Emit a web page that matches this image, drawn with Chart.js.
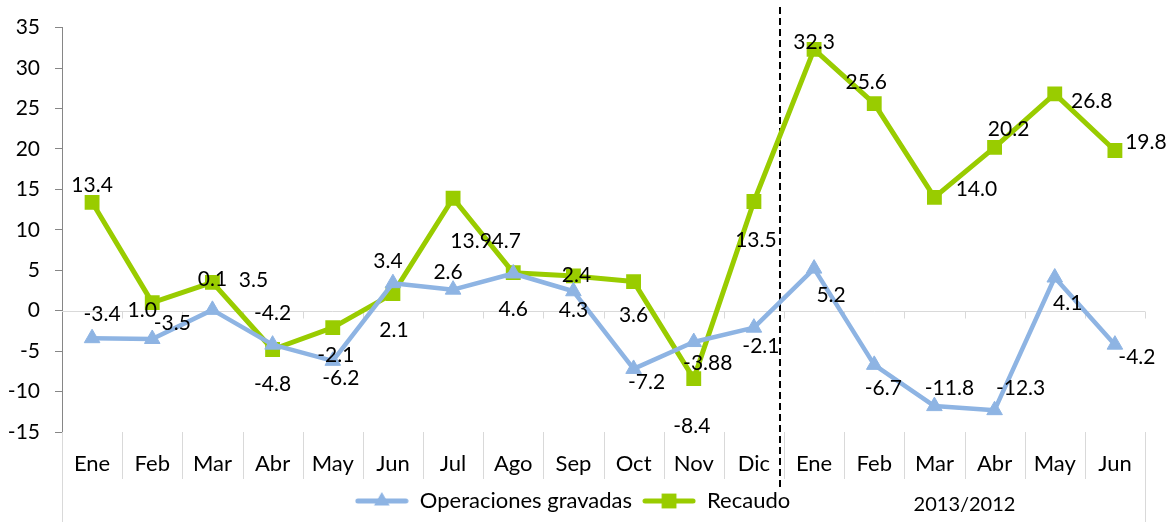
<!DOCTYPE html>
<html>
<head>
<meta charset="utf-8">
<script src="https://cdn.jsdelivr.net/npm/chart.js@4.4.1/dist/chart.umd.min.js"></script>
<style>
html, body { margin: 0; padding: 0; background: #fff; }
#wrap { width: 1173px; height: 522px; position: relative; }
</style>
</head>
<body>
<div id="wrap"><canvas id="myChart"></canvas></div>
<script>
// datos
var meses = ["Ene", "Feb", "Mar", "Abr", "May", "Jun", "Jul", "Ago", "Sep", "Oct", "Nov", "Dic",
             "Ene", "Feb", "Mar", "Abr", "May", "Jun"];
var operaciones = [-3.4, -3.5, 0.1, -4.2, -6.2, 3.4, 2.6, 4.6, 2.4, -7.2, -3.88, -2.1,
                   5.2, -6.7, -11.8, -12.3, 4.1, -4.2];
var recaudo = [13.4, 1.0, 3.5, -4.8, -2.1, 2.1, 13.9, 4.7, 4.3, 3.6, -8.4, 13.5,
               32.3, 25.6, 14.0, 20.2, 26.8, 19.8];
var yTicks = [-15, -10, -5, 0, 5, 10, 15, 20, 25, 30, 35];
var grupoLabel = "2013/2012";
var grupoDesde = 12, grupoHasta = 17;   // meses de 2013
var corte = 11.43;                      // linea punteada entre Dic y Ene

// desplazamiento de las etiquetas (px) respecto al punto, como en la hoja
var nudgeOper = [[10,-24],[20,-16],[0,-31],[0,-31],[8,17],[-5,-22],[-5,-17],[0,36],[3,-16],
                 [13,13],[14,21],[7,19],[17,27],[9,23],[15,-18],[26,-22],[13,26],[22,13]];
var nudgeRec = [[0,-17],[-10,8],[41,-2],[0,35],[3,28],[1,37],[18,43],[-7,-31],[0,34],
                [0,34],[-2,48],[2,39],[0,-7],[-8,-21],[42,-8],[14,-18],[37,7],[31,-8]];

var azul = '#8EB4E3';
var verde = '#99CC00';

Chart.defaults.font.family = 'Lato';
Chart.defaults.font.size = 21;
Chart.defaults.color = '#000';

function fmt(v) {
    return (Math.round(v * 10) / 10 === v) ? v.toFixed(1) : String(v);
}

function legendIcon(color, style, r) {
    var c = document.createElement('canvas');
    c.width = 54; c.height = 22;
    var g = c.getContext('2d');
    g.strokeStyle = color;
    g.fillStyle = color;
    g.lineWidth = 5;
    g.lineCap = 'round';
    g.beginPath();
    g.moveTo(3, 11); g.lineTo(51, 11);
    g.stroke();
    Chart.helpers.drawPoint(g, {pointStyle: style, radius: r, borderWidth: 0, rotation: 0}, 27, 11);
    return c;
}
var icons = [legendIcon(azul, 'triangle', 9), legendIcon(verde, 'rect', 10.5)];

var excelAxis = {
    id: 'excelAxis',
    beforeDatasetsDraw: function(chart) {
        var ctx = chart.ctx, xs = chart.scales.x, ys = chart.scales.y, a = chart.chartArea;
        var y0 = Math.round(ys.getPixelForValue(0)) + 0.5;
        ctx.save();
        ctx.strokeStyle = '#d9d9d9';
        ctx.lineWidth = 1;
        ctx.beginPath();
        ctx.moveTo(a.left, y0); ctx.lineTo(a.right, y0);
        for (var i = 1; i <= meses.length; i++) {
            var px = Math.round(xs.getPixelForValue(i - 0.5)) + 0.5;
            ctx.moveTo(px, y0); ctx.lineTo(px, y0 + 7);
        }
        for (var j = 0; j <= meses.length; j++) {
            var sx = Math.round(xs.getPixelForValue(j - 0.5)) + 0.5;
            var fin = (j == 0 || j == meses.length) ? chart.height : a.bottom + 47;
            ctx.moveTo(sx, a.bottom); ctx.lineTo(sx, fin);
        }
        ctx.stroke();

        // linea punteada
        var cx = Math.round(xs.getPixelForValue(corte));
        ctx.strokeStyle = '#000';
        ctx.lineWidth = 2;
        ctx.setLineDash([7, 4]);
        ctx.beginPath();
        ctx.moveTo(cx, 7); ctx.lineTo(cx, 490);
        ctx.stroke();
        ctx.setLineDash([]);

        // etiqueta de grupo
        ctx.fillStyle = '#000';
        ctx.font = '20px Lato';
        ctx.textAlign = 'center';
        ctx.textBaseline = 'middle';
        var gx = (xs.getPixelForValue(grupoDesde) + xs.getPixelForValue(grupoHasta)) / 2;
        ctx.fillText(grupoLabel, gx, 505);
        ctx.restore();
    },
    afterDatasetsDraw: function(chart) {
        var ctx = chart.ctx;
        var nudges = [nudgeOper, nudgeRec];
        ctx.save();
        ctx.fillStyle = '#000';
        ctx.font = '21px Lato';
        ctx.textAlign = 'center';
        ctx.textBaseline = 'middle';
        chart.data.datasets.forEach(function(ds, d) {
            var meta = chart.getDatasetMeta(d);
            meta.data.forEach(function(pt, i) {
                var n = nudges[d][i];
                ctx.fillText(fmt(ds.data[i]), pt.x + n[0], pt.y + n[1]);
            });
        });
        ctx.restore();
    }
};

var ctx = document.getElementById('myChart').getContext('2d');
var chart = new Chart(ctx, {
    type: 'line',
    data: {
        labels: meses,
        datasets: [{
            label: 'Operaciones gravadas',
            data: operaciones,
            borderColor: azul,
            backgroundColor: azul,
            borderWidth: 4.5,
            pointStyle: 'triangle',
            pointRadius: 9,
            pointHoverRadius: 9,
            pointBorderWidth: 1,
            borderJoinStyle: 'round',
            borderCapStyle: 'round',
            tension: 0
        }, {
            label: 'Recaudo',
            data: recaudo,
            borderColor: verde,
            backgroundColor: verde,
            borderWidth: 5,
            pointStyle: 'rect',
            pointRadius: 10.5,
            pointHoverRadius: 10.5,
            pointBorderWidth: 0,
            borderJoinStyle: 'round',
            borderCapStyle: 'round',
            tension: 0
        }]
    },
    options: {
        responsive: true,
        maintainAspectRatio: false,
        animation: false,
        layout: { padding: { top: 26, right: 28, left: 0, bottom: 0 } },
        plugins: {
            tooltip: { enabled: false },
            legend: {
                position: 'bottom',
                labels: {
                    usePointStyle: true,
                    pointStyleWidth: 54,
                    boxHeight: 22,
                    padding: 10,
                    font: { size: 22 },
                    color: '#000',
                    generateLabels: function(ch) {
                        return ch.data.datasets.map(function(ds, i) {
                            return { text: ds.label, pointStyle: icons[i], fillStyle: ds.borderColor,
                                     strokeStyle: ds.borderColor, lineWidth: 0, hidden: false, datasetIndex: i };
                        });
                    }
                }
            }
        },
        scales: {
            x: {
                offset: true,
                grid: { display: false, drawTicks: false },
                border: { display: false },
                ticks: { padding: 19, autoSkip: false, maxRotation: 0, color: '#000', font: { size: 22 } },
                afterFit: function(s) { s.height = 48; }
            },
            y: {
                min: -15,
                max: 35,
                afterBuildTicks: function(s) { s.ticks = yTicks.map(function(v) { return {value: v}; }); },
                ticks: { padding: 15, color: '#000' },
                grid: { drawOnChartArea: false, tickLength: 7, color: '#868686' },
                border: { color: '#868686', width: 1 },
                afterFit: function(s) { s.width = 62; }
            }
        }
    },
    plugins: [excelAxis]
});
</script>
</body>
</html>
